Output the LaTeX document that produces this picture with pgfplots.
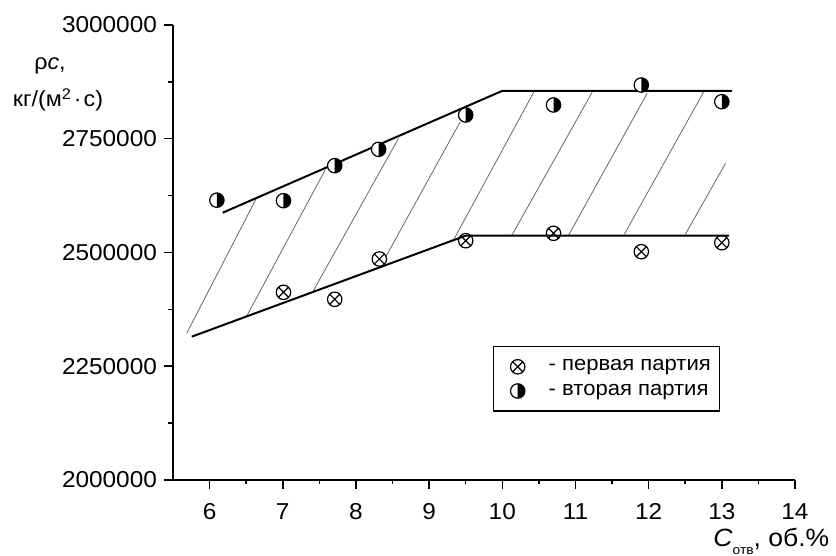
\documentclass[border=0pt]{standalone}
\usepackage{fontspec}
\setmainfont{Liberation Sans}[FakeStretch=1.06]
\usepackage{pgfplots}
\pgfplotsset{compat=1.18}
\usetikzlibrary{plotmarks}

\pgfdeclareplotmark{halfright}{%
  \pgfpathcircle{\pgfpointorigin}{\pgfplotmarksize}%
  \pgfsetfillcolor{white}%
  \pgfusepathqfillstroke
  \pgfpathmoveto{\pgfqpoint{0pt}{\pgfplotmarksize}}%
  \pgfpatharc{90}{-90}{\pgfplotmarksize}%
  \pgfpathclose
  \pgfsetfillcolor{black}%
  \pgfusepathqfill
}
\pgfplotsset{myleg/.style={legend image code/.code={\path[draw=none,fill=none] (0pt,0pt) -- (18pt,0pt); \draw[##1] plot coordinates {(9pt,0pt)};}}}

\begin{document}
\begin{tikzpicture}
\path[use as bounding box] (-86.5pt,-38pt) rectangle (331.5pt,240pt);
\begin{axis}[
  at={(0pt,0pt)}, anchor=south west,
  scale only axis, width=311pt, height=227.5pt,
  xmin=5.5, xmax=14, ymin=2000000, ymax=3000000,
  axis lines=left, axis line style={-, line width=0.75pt},
  tick align=outside,
  xtick={6,7,8,9,10,11,12,13,14},
  ytick={2000000,2250000,2500000,2750000,3000000},
  minor x tick num=1, minor y tick num=1,
  major tick length=4.5pt, minor tick length=2.25pt,
  every tick/.style={black, line width=0.75pt},
  scaled y ticks=false,
  /pgf/number format/assume math mode=true,
  tick label style={font=\fontsize{11.5}{13}\selectfont},
  yticklabel style={/pgf/number format/fixed, /pgf/number format/1000 sep={}, xshift=0pt},
  xticklabel style={yshift=-3.5pt, text height=8.4pt},
  legend style={at={(axis description cs:0.5145,0.2945)}, anchor=north west,
    draw=black, line width=0.7pt, font=\fontsize{10.4}{12}\selectfont,
    inner xsep=3pt, inner ysep=5pt, nodes={inner sep=1.5pt}, row sep=2pt},
  legend cell align=left,
]
% hatching
\addplot[forget plot, black!60, line width=0.4pt] coordinates {(5.687,2322400) (6.635,2617600)};
\addplot[forget plot, black!60, line width=0.4pt] coordinates {(6.508,2360400) (7.579,2681300)};
\addplot[forget plot, black!60, line width=0.4pt] coordinates {(7.411,2413900) (8.582,2751000)};
\addplot[forget plot, black!60, line width=0.4pt] coordinates {(8.414,2492300) (9.426,2787500)};
\addplot[forget plot, black!60, line width=0.4pt] coordinates {(9.334,2527500) (10.429,2852100)};
\addplot[forget plot, black!60, line width=0.4pt] coordinates {(10.133,2538500) (11.228,2852100)};
\addplot[forget plot, black!60, line width=0.4pt] coordinates {(10.908,2538500) (11.980,2849900)};
\addplot[forget plot, black!60, line width=0.4pt] coordinates {(11.670,2540700) (12.754,2853400)};
\addplot[forget plot, black!60, line width=0.4pt] coordinates {(12.504,2540700) (13.051,2696000)};
% boundary lines
\addplot[forget plot, black, line width=1pt] coordinates {(6.18,2587500) (9.996,2855000) (13.14,2855000)};
\addplot[forget plot, black, line width=1pt] coordinates {(5.756,2315000) (9.5,2537000) (13.10,2537000)};
% data
\addplot[only marks, mark=otimes, mark size=3.6pt, black, line width=0.6pt, myleg] coordinates {
(7.01,2412500) (7.71,2397100) (8.32,2485700) (9.50,2525900) (10.70,2542200) (11.90,2501800) (13.00,2521500)};
\addlegendentry{\hspace*{5pt}- первая партия}
\addplot[only marks, mark=halfright, mark size=3.6pt, black, line width=0.6pt, myleg] coordinates {
(6.10,2615000) (7.01,2613900) (7.71,2690800) (8.31,2726800) (9.50,2802200) (10.70,2824200) (11.90,2868100) (13.00,2831400)};
\addlegendentry{\hspace*{5pt}- вторая партия}
\end{axis}
\node[font=\fontsize{11}{13}\selectfont, anchor=base] at (-61.5pt,205pt) {ρ\textit{c},};
\node[font=\fontsize{11}{13}\selectfont, anchor=base] at (-57.5pt,186.5pt) {кг/(м\textsuperscript{2}\kern1pt·\kern1pt с)};
\node[font=\fontsize{12.5}{14}\selectfont, anchor=base west, inner sep=0pt] at (270pt,-33.5pt) {\textit{C}\raisebox{-4pt}{\fontsize{6.5}{7}\selectfont отв}, об.\%};
\end{tikzpicture}
\end{document}
